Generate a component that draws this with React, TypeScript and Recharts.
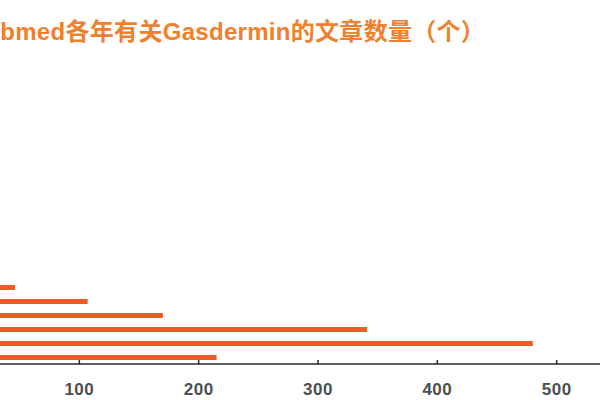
import { BarChart, Bar, XAxis, YAxis } from "recharts"

// 年份（上面的年份数值很小，在图中看不到）
const years = [
  "2000", "2001", "2002", "2003", "2004", "2005", "2006", "2007",
  "2008", "2009", "2010", "2011", "2012", "2013", "2014", "2015",
  "2016", "2017", "2018", "2019", "2020", "2021"
]
const counts = [1, 0, 1, 2, 3, 4, 3, 5, 6, 7, 6, 8, 9, 10, 12, 18, 46, 107, 170, 341, 480, 215]
const xTicks = [0, 100, 200, 300, 400, 500, 600]

const title = "Pubmed各年有关Gasdermin的文章数量（个）"

const data = years.map((year, i) => ({ year, count: counts[i] }))

function Tick({ x, y, payload }: any) {
  return (
    <g>
      <line x1={x} x2={x} y1={y - 4} y2={y} stroke="#2a2a2a" strokeWidth={1.5} />
      <text
        x={x}
        y={y + 31}
        textAnchor="middle"
        fontSize={17}
        fontWeight="bold"
        letterSpacing={0.5}
        fill="#4a4f55"
        fontFamily="'Liberation Sans', Arial, sans-serif"
      >
        {payload.value}
      </text>
    </g>
  )
}

export default function App() {
  return (
    <div
      style={{
        position: "fixed",
        left: 0,
        top: 0,
        width: 600,
        height: 400,
        overflow: "hidden",
        background: "#fff"
      }}
    >
      <div style={{ position: "absolute", left: -60, top: 0 }}>
        <BarChart
          width={756}
          height={400}
          data={data}
          layout="vertical"
          margin={{ top: 56, right: 20, bottom: 0, left: 20 }}
        >
          <XAxis
            type="number"
            domain={[0, 600]}
            ticks={xTicks}
            height={36}
            tickLine={false}
            tickSize={0}
            tickMargin={0}
            axisLine={{ stroke: "#2a2a2a", strokeWidth: 1.5 }}
            tick={<Tick />}
          />
          <YAxis type="category" dataKey="year" hide width={0} />
          <Bar dataKey="count" fill="#F05A24" barSize={5} isAnimationActive={false} />
        </BarChart>
      </div>
      <div
        style={{
          position: "absolute",
          left: -31,
          top: 20,
          fontSize: 24,
          lineHeight: "24px",
          fontWeight: "bold",
          letterSpacing: 0.3,
          color: "#F0802E",
          whiteSpace: "nowrap",
          fontFamily: "'Liberation Sans', 'Noto Sans CJK SC', sans-serif"
        }}
      >
        {title}
      </div>
    </div>
  )
}
